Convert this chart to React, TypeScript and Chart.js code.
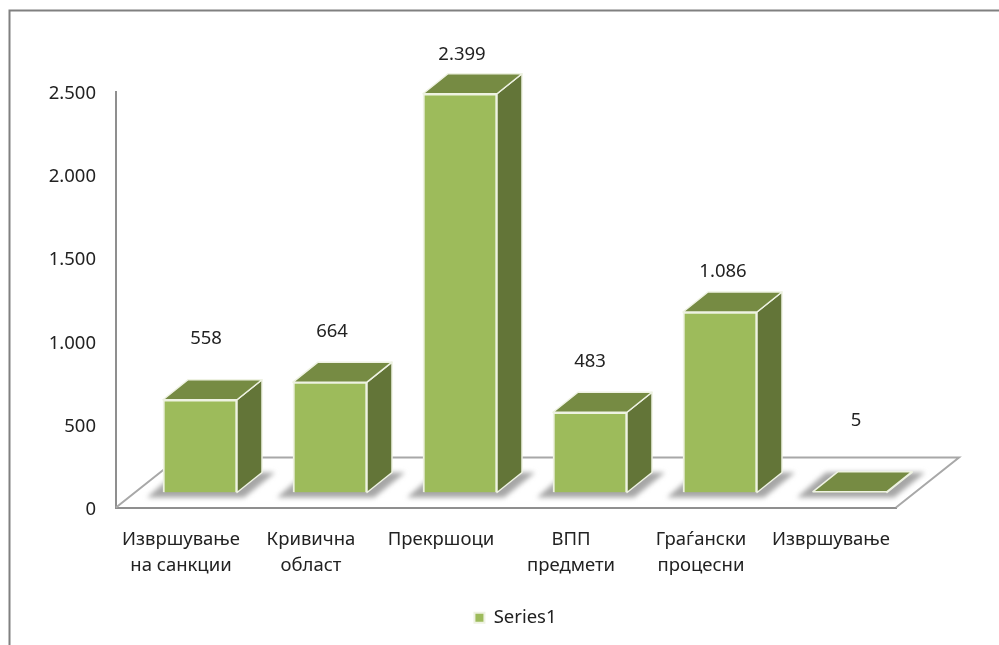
import React, { useEffect, useRef } from "react";
import { Chart, registerables } from "chart.js";

Chart.register(...registerables);

const categories = [
  ["Извршување", "на санкции"],
  ["Кривична", "област"],
  ["Прекршоци"],
  ["ВПП", "предмети"],
  ["Граѓански", "процесни"],
  ["Извршување"],
];
const seriesName = "Series1";
const values = [558, 664, 2399, 483, 1086, 5];
const yTicks = [0, 500, 1000, 1500, 2000, 2500];

const FONT = "'Noto Sans'";
const FONT_SIZE = 18.5;
const C_FRONT = "#9dbb5b";
const C_TOP = "#768b43";
const C_SIDE = "#637538";
const C_EDGE = "#eef2e2";
const C_AXIS = "#8f8f8f";
const C_TEXT = "#222222";
const SHIFT_X = 19;
const SHIFT_Y = -15;
const DEPTH_X = 25;
const DEPTH_Y = -20;
const FLOOR_X = 63;
const FLOOR_Y = -50;
const LABEL_SHIFT = [
  [25, 61],
  [21, 50],
  [21, 39],
  [19, 50],
  [22, 40],
  [25, 71],
];

const poly = (ctx: CanvasRenderingContext2D, pts: number[][]) => {
  ctx.beginPath();
  pts.forEach(([x, y], i) => (i ? ctx.lineTo(x, y) : ctx.moveTo(x, y)));
  ctx.closePath();
};

const bars3d = {
  id: "bars3d",
  beforeDatasetsDraw(chart: any) {
    const { ctx, chartArea: a } = chart;
    ctx.save();
    ctx.lineWidth = 2;
    ctx.strokeStyle = "#a8a8a8";
    ctx.beginPath();
    ctx.moveTo(a.left, a.bottom);
    ctx.lineTo(a.left + FLOOR_X, a.bottom + FLOOR_Y);
    ctx.lineTo(a.right + FLOOR_X, a.bottom + FLOOR_Y);
    ctx.lineTo(a.right, a.bottom);
    ctx.stroke();
    ctx.filter = "blur(2.5px)";
    ctx.fillStyle = "#a6a6a6";
    chart.getDatasetMeta(0).data.forEach((el: any) => {
      const l = el.x - el.width / 2 + SHIFT_X;
      const r = el.x + el.width / 2 + SHIFT_X;
      const b = el.base + SHIFT_Y;
      poly(ctx, [
        [l + 13, b + DEPTH_Y],
        [r + DEPTH_X + 13, b + DEPTH_Y],
        [r + 7, b + 5],
        [l - 16, b + 5],
      ]);
      ctx.fill();
    });
    ctx.restore();
  },
  beforeDatasetDraw(chart: any) {
    chart.ctx.save();
    chart.ctx.translate(SHIFT_X, SHIFT_Y);
  },
  afterDatasetDraw(chart: any) {
    const { ctx } = chart;
    ctx.restore();
    ctx.save();
    ctx.lineWidth = 1.5;
    ctx.strokeStyle = C_EDGE;
    ctx.lineJoin = "round";
    chart.getDatasetMeta(0).data.forEach((el: any, i: number) => {
      const l = el.x - el.width / 2 + SHIFT_X;
      const r = el.x + el.width / 2 + SHIFT_X;
      const t = el.y + SHIFT_Y;
      const b = el.base + SHIFT_Y;
      ctx.fillStyle = C_SIDE;
      poly(ctx, [
        [r, t],
        [r + DEPTH_X, t + DEPTH_Y],
        [r + DEPTH_X, b + DEPTH_Y],
        [r, b],
      ]);
      ctx.fill();
      ctx.stroke();
      ctx.fillStyle = C_TOP;
      poly(ctx, [
        [l, t],
        [l + DEPTH_X, t + DEPTH_Y],
        [r + DEPTH_X, t + DEPTH_Y],
        [r, t],
      ]);
      ctx.fill();
      ctx.stroke();
      const [dx, dy] = LABEL_SHIFT[i];
      ctx.fillStyle = C_TEXT;
      ctx.font = `${FONT_SIZE}px ${FONT}`;
      ctx.textAlign = "center";
      ctx.textBaseline = "middle";
      ctx.fillText(values[i].toLocaleString("de-DE"), el.x + dx, t - dy);
    });
    ctx.restore();
  },
  beforeDraw(chart: any) {
    const { ctx } = chart;
    ctx.save();
    ctx.strokeStyle = "#808080";
    ctx.lineWidth = 2;
    ctx.beginPath();
    ctx.moveTo(9.5, 645);
    ctx.lineTo(9.5, 10.5);
    ctx.lineTo(999, 10.5);
    ctx.stroke();
    ctx.restore();
  },
};

export default function App() {
  const ref = useRef<HTMLCanvasElement>(null);
  useEffect(() => {
    document.body.style.margin = "0";
    const chart = new Chart(ref.current!, {
      type: "bar",
      data: {
        labels: categories,
        datasets: [
          {
            label: seriesName,
            data: values,
            backgroundColor: C_FRONT,
            borderColor: C_EDGE,
            borderWidth: 2,
            barThickness: 74,
            minBarLength: 0,
          },
        ],
      },
      options: {
        responsive: false,
        animation: false,
        layout: { padding: { left: 32, right: 0, top: 92, bottom: 8 } },
        plugins: {
          tooltip: { enabled: false },
          legend: {
            position: "bottom",
            labels: {
              boxWidth: 10,
              boxHeight: 10,
              color: C_TEXT,
              font: { family: FONT, size: FONT_SIZE },
              padding: 7,
            },
          },
        },
        scales: {
          x: {
            grid: { display: false, drawTicks: false },
            border: { color: C_AXIS, width: 2 },
            ticks: {
              color: C_TEXT,
              padding: 19,
              maxRotation: 0,
              autoSkip: false,
              font: { family: FONT, size: FONT_SIZE, lineHeight: 1.42 },
            },
            afterFit: (s: any) => {
              s.height = 94;
            },
          },
          y: {
            min: 0,
            max: 2500,
            afterBuildTicks: (s: any) => {
              s.ticks = yTicks.map((value) => ({ value }));
            },
            grid: { display: false, drawTicks: false },
            border: { color: C_AXIS, width: 2 },
            ticks: {
              color: C_TEXT,
              padding: 20,
              labelOffset: 2,
              font: { family: FONT, size: FONT_SIZE },
              callback: (v: any) => Number(v).toLocaleString("de-DE"),
            },
            afterFit: (s: any) => {
              s.width = 84;
            },
          },
          pad: {
            position: "right",
            display: true,
            grid: { display: false, drawTicks: false },
            border: { display: false },
            ticks: { display: false },
            afterFit: (s: any) => {
              s.width = 103;
            },
          },
        },
      },
      plugins: [bars3d],
    } as any);
    return () => chart.destroy();
  }, []);
  return (
    <canvas
      ref={ref}
      width={999}
      height={645}
      style={{ display: "block", width: 999, height: 645, filter: "blur(0.4px)" }}
    />
  );
}
